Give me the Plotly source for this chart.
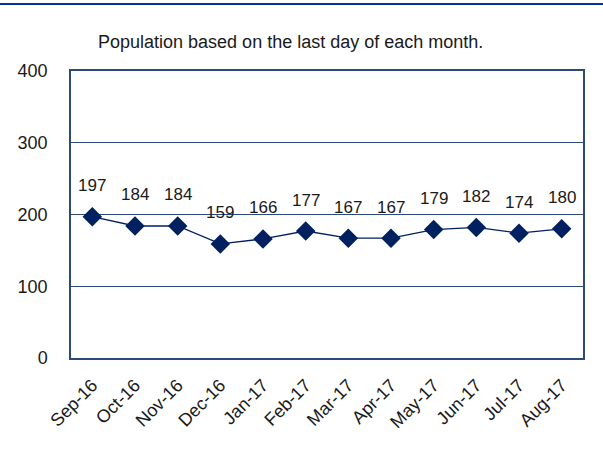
import plotly.graph_objects as go

months = ["Sep-16", "Oct-16", "Nov-16", "Dec-16", "Jan-17", "Feb-17",
          "Mar-17", "Apr-17", "May-17", "Jun-17", "Jul-17", "Aug-17"]
population = [197, 184, 184, 159, 166, 177, 167, 167, 179, 182, 174, 180]
y_ticks = [0, 100, 200, 300, 400]

FONT = "Liberation Sans Narrow, Arial Narrow, Liberation Sans, Arial, sans-serif"
NAVY = "#002060"
AXIS = "#2b4a78"

fig = go.Figure()
fig.add_trace(go.Scatter(
    x=months, y=population, mode="lines+markers",
    line=dict(color=NAVY, width=1.3),
    marker=dict(symbol="diamond", size=15, color=NAVY),
    hoverinfo="skip", showlegend=False,
))

for m, v in zip(months, population):
    fig.add_annotation(x=m, y=v, text=str(v), showarrow=False,
                       yshift=31, font=dict(family=FONT, size=17, color="#1a1a1a"))

fig.add_annotation(xref="paper", yref="paper", x=(290 - 71) / 512, y=(358 - 42) / 287,
                   text="Population based on the last day of each month.",
                   showarrow=False, xanchor="center", yanchor="middle",
                   font=dict(family=FONT, size=18, color="#1a1a1a"))

fig.add_shape(type="line", xref="paper", yref="paper",
              x0=-0.2, x1=1.2, y0=(358 - 4) / 287, y1=(358 - 4) / 287,
              line=dict(color="#0033a0", width=2))

fig.update_layout(
    width=603, height=449,
    margin=dict(l=71, r=20, t=71, b=91),
    paper_bgcolor="white", plot_bgcolor="white",
    font=dict(family=FONT, color="#1a1a1a"),
    xaxis=dict(type="category", showline=True, linecolor=AXIS, linewidth=1.5, mirror=True,
               showgrid=False, tickangle=-45, tickfont=dict(size=18), ticks="",
               ticklabelstandoff=8,
               range=[-0.5, 11.5], fixedrange=True, automargin=False),
    yaxis=dict(range=[0, 400], tickvals=y_ticks, showline=True, linecolor=AXIS, linewidth=1.5,
               mirror=True, showgrid=True, gridcolor=AXIS, gridwidth=1, zeroline=False,
               tickfont=dict(size=18), ticks="", ticklabelstandoff=18, fixedrange=True,
               automargin=False),
)

fig.write_html("out.html", config={"displayModeBar": False},
               post_script="document.body.style.margin='0px';document.body.style.padding='0px';")
